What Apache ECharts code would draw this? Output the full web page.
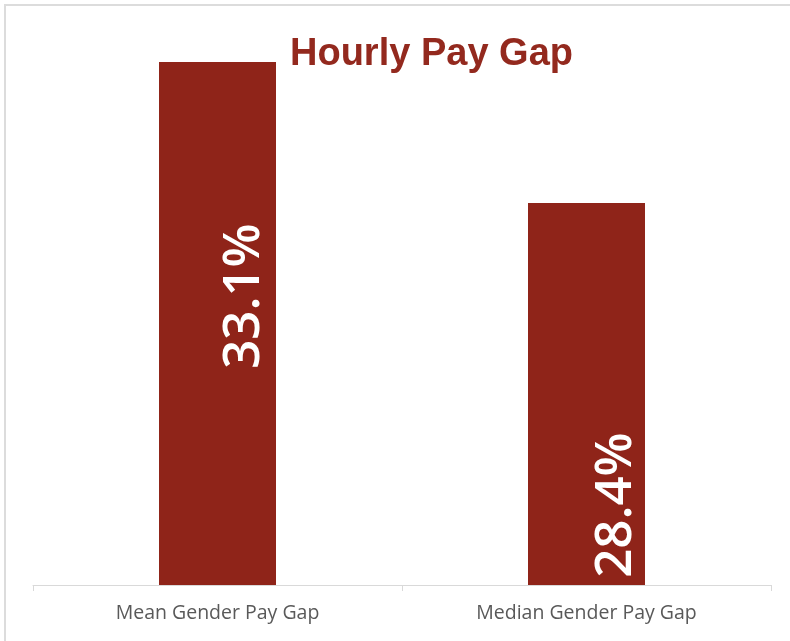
<!DOCTYPE html>
<html>
<head>
<meta charset="utf-8">
<script src="https://cdn.jsdelivr.net/npm/echarts@6/dist/echarts.min.js"></script>
<style>
  html, body { margin: 0; padding: 0; background: #fff; }
  #chart { width: 790px; height: 641px; }
</style>
</head>
<body>
<div id="chart"></div>
<script>
const categories = ["Mean Gender Pay Gap", "Median Gender Pay Gap"];
const payGap = [33.1, 28.4];
const yMin = 15.67;
const yMax = 34.67;

const barColor = "#8f2419";
// excel put the labels at odd spots, so place them by hand
const labelPos = [[85, 234], [88, 302]];

var myChart = echarts.init(document.getElementById("chart"));

const option = {
  animation: false,
  title: {
    text: "Hourly Pay Gap",
    left: 285,
    top: 31,
    textStyle: {
      fontFamily: "Liberation Sans",
      fontWeight: 700,
      fontSize: 38,
      color: "#93291e",
    },
  },
  graphic: [
    {
      type: "rect",
      shape: { x: 5, y: 5, width: 800, height: 660 },
      style: { fill: "none", stroke: "#dcdcdc", lineWidth: 2 },
      z: -1,
    },
  ],
  grid: { left: 33, right: 19, top: 15, bottom: 56 },
  xAxis: {
    type: "category",
    data: categories,
    axisLine: { lineStyle: { color: "#d9d9d9", width: 1 } },
    axisTick: { show: true, length: 6, lineStyle: { color: "#d9d9d9" } },
    axisLabel: {
      margin: 18,
      fontFamily: "Open Sans",
      fontSize: 19.5,
      color: "#595959",
    },
  },
  yAxis: {
    type: "value",
    min: yMin,
    max: yMax,
    show: false,
    splitLine: { show: false },
  },
  series: [
    {
      type: "bar",
      barWidth: 117,
      itemStyle: { color: barColor },
      data: payGap.map((v, i) => ({
        value: v,
        label: { position: labelPos[i] },
      })),
      label: {
        show: true,
        rotate: 90,
        align: "center",
        verticalAlign: "middle",
        formatter: "{c}%",
        fontFamily: "Open Sans",
        fontWeight: 600,
        fontSize: 51,
        color: "#fff",
      },
    },
  ],
};

myChart.setOption(option);
</script>
</body>
</html>
